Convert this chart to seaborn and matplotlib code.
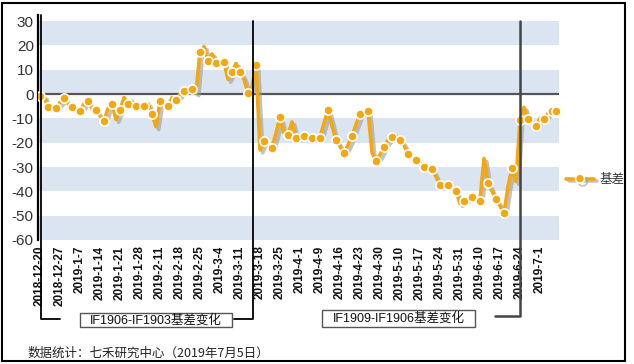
import pandas as pd
import seaborn as sns
import matplotlib.pyplot as plt
from matplotlib import patheffects as pe
from matplotlib.lines import Line2D
from matplotlib.patches import Rectangle

# category labels (one every 5 trading days)
tick_labels = [
    "2018-12-20", "2018-12-27", "2019-1-7", "2019-1-14", "2019-1-21", "2019-1-28",
    "2019-2-11", "2019-2-18", "2019-2-25", "2019-3-4", "2019-3-11", "2019-3-18",
    "2019-3-25", "2019-4-1", "2019-4-9", "2019-4-16", "2019-4-23", "2019-4-30",
    "2019-5-10", "2019-5-17", "2019-5-24", "2019-5-31", "2019-6-10", "2019-6-17",
    "2019-6-24", "2019-7-1",
]

# basis per trading day
basis = [
    -0.8, -1.0, -5.5, -5.0, -5.6, -3.5, -1.5, -4.0, -5.2, -7.0,
    -7.1, -4.0, -2.7, -6.0, -6.6, -9.0, -11.1, -6.0, -4.0, -10.5,
    -6.6, -1.5, -4.0, -3.0, -5.0, -5.0, -4.8, -4.0, -8.1, -13.5,
    -3.0, -3.5, -4.9, -1.5, -2.3, 0.0, 1.4, 2.0, 1.9, 0.5,
    17.4, 19.5, 13.4, 16.5, 12.9, 13.0, 13.2, 6.0, 9.2, 12.5,
    9.2, 6.0, 0.4, 3.0, 11.8, -23.0, -19.4, -21.0, -22.3, -16.0,
    -9.6, -16.0, -17.0, -11.5, -18.2, -17.5, -17.3, -18.5, -18.2, -18.0,
    -17.9, -12.0, -6.6, -13.0, -19.1, -21.5, -24.3, -21.0, -17.2, -12.5,
    -8.4, -7.0, -7.0, -24.0, -27.6, -25.0, -21.6, -19.0, -17.5, -17.0,
    -18.8, -21.0, -24.8, -26.0, -27.3, -28.5, -29.8, -30.5, -30.8, -34.0,
    -37.4, -37.0, -37.4, -38.0, -39.8, -45.0, -43.8, -43.0, -42.5, -43.0,
    -43.8, -26.5, -36.7, -40.0, -43.2, -46.0, -49.0, -38.0, -30.4, -36.0,
    -10.6, -5.5, -10.3, -11.0, -13.3, -10.0, -10.2, -8.0, -7.0, -7.0,
]

series_name = "基差"
box_texts = ["IF1906-IF1903基差变化", "IF1909-IF1906基差变化"]
source_text = "数据统计：七禾研究中心（2019年7月5日）"

n = len(basis)
df = pd.DataFrame({"idx": range(n), series_name: basis})
mark_idx = list(range(0, n, 2)) + [n - 1]
marks = df.iloc[mark_idx]

orange = "#f5a70f"
band = "#dbe5f1"

sns.set_theme(style="white")
plt.rcParams["font.family"] = ["Liberation Sans", "Noto Sans CJK SC", "DejaVu Sans"]

W, H = 634, 364
fx = lambda x: x / W
fy = lambda y: 1 - y / H

fig = plt.figure(figsize=(W / 100, H / 100), dpi=100)
ax = fig.add_axes([fx(38), fy(240), fx(559 - 38), (240 - 15) / H])

# horizontal bands
for k, lo in enumerate(range(-60, 30, 10)):
    if k % 2 == 0:
        ax.axhspan(lo, lo + 10, color=band, lw=0, zorder=0)
ax.axhline(0, color="#555555", lw=1.6, zorder=1)

shadow = [pe.SimpleLineShadow(offset=(2, -2), shadow_color="#9a9a9a", alpha=0.6), pe.Normal()]
sns.lineplot(data=df, x="idx", y=series_name, ax=ax, color=orange, lw=2.6,
             path_effects=shadow, legend=False, zorder=3)
sns.scatterplot(data=marks, x="idx", y=series_name, ax=ax, color=orange, s=44,
                edgecolor="white", linewidth=1.2, legend=False, zorder=4)

ax.set_xlim(-0.5, 129.75)
ax.set_ylim(-60, 32.47)
ax.set_yticks(range(-60, 31, 10))
ax.set_yticklabels([str(v) for v in range(-60, 31, 10)], fontsize=11, color="#333333")
ax.set_xticks(range(0, n, 5)[:len(tick_labels)])
ax.set_xticklabels(tick_labels, rotation=90, fontsize=8.5, fontweight="bold", color="#111111")
ax.tick_params(axis="both", length=0)
ax.tick_params(axis="y", pad=3)
ax.tick_params(axis="x", pad=4)
ax.set_xlabel("")
ax.set_ylabel("")
for s in ["top", "right", "bottom"]:
    ax.spines[s].set_visible(False)
ax.spines["left"].set_color("black")
ax.spines["left"].set_linewidth(1.6)

# legend
handle = Line2D([], [], color=orange, lw=2.6, marker="o", markersize=6.5,
                markerfacecolor=orange, markeredgecolor="white", markeredgewidth=1.2,
                path_effects=shadow)
ax.legend(handles=[handle], labels=[series_name], loc="center left",
          bbox_to_anchor=(fx(560), fy(180)), bbox_transform=fig.transFigure,
          frameon=False, handlelength=2.2, fontsize=9, borderpad=0, handletextpad=0.5,
          labelcolor="#333333")


def fline(xs, ys, color="black", lw=1.2):
    fig.add_artist(Line2D([fx(x) for x in xs], [fy(y) for y in ys], color=color,
                          lw=lw, transform=fig.transFigure, zorder=5))


def fbox(x0, y0, x1, y1, text):
    fig.add_artist(Rectangle((fx(x0), fy(y1)), (x1 - x0) / W, (y1 - y0) / H,
                             transform=fig.transFigure, facecolor="white",
                             edgecolor="#555555", lw=1.0, zorder=5))
    fig.text(fx((x0 + x1) / 2), fy((y0 + y1) / 2), text, ha="center", va="center",
             fontsize=9, color="#111111", zorder=6)


# bracket for first contract pair
fline([41, 41, 60], [15, 319, 319], color="black", lw=1.3)
fline([234, 253, 253], [319, 319, 21], color="black", lw=1.3)
fbox(80, 313, 232, 327, box_texts[0])

# bracket for second contract pair
fline([495, 520, 520], [316, 316, 21], color="#444444", lw=1.8)
fbox(322.5, 309.5, 475, 326.5, box_texts[1])

# source note and outer frame
fig.text(fx(28), fy(353), source_text, fontsize=9, va="center", color="#222222",
         family=["Noto Sans CJK SC", "DejaVu Sans"])
fig.add_artist(Rectangle((fx(2), fy(361)), (625 - 2) / W, (361 - 3) / H,
                         transform=fig.transFigure, fill=False, edgecolor="black",
                         lw=1.5, zorder=7))

fig.savefig("out.png", dpi=100)
